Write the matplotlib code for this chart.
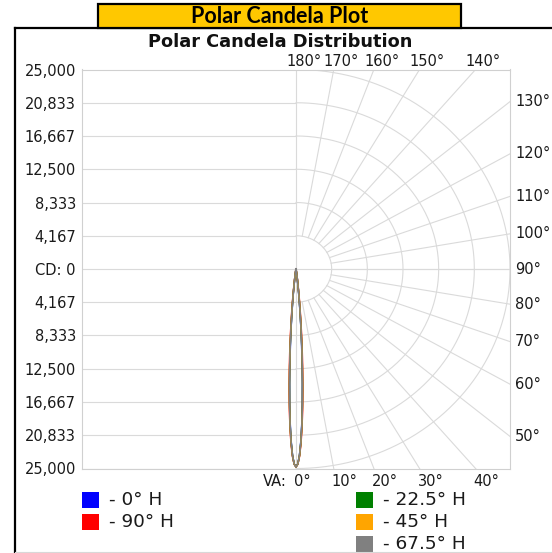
import numpy as np
import matplotlib
matplotlib.use('Agg')
import matplotlib.pyplot as plt
from matplotlib.patches import Rectangle
from matplotlib.lines import Line2D

# vertical angles (0 = nadir) and candela per horizontal plane
vert_angles = [0, 0.5, 1, 1.5, 2, 2.5, 3, 3.5, 4, 4.5, 5, 5.5, 6, 7, 8, 9, 10,
               12.5, 15, 20, 30, 45, 60, 90]
cd_0h = [24800, 24420, 23320, 21590, 19390, 16880, 14250, 11670, 9260, 7130, 5320,
         3850, 2700, 1210, 480, 170, 60, 30, 20, 15, 10, 5, 0, 0]
cd_90h = [24800, 24470, 23500, 21970, 20000, 17720, 15290, 12840, 10490, 8350, 6470,
          4870, 3580, 1780, 800, 330, 120, 40, 20, 15, 10, 5, 0, 0]
cd_22h = [24800, 24430, 23370, 21700, 19550, 17100, 14520, 11970, 9580, 7440, 5610,
          4110, 2920, 1350, 550, 200, 70, 30, 20, 15, 10, 5, 0, 0]
cd_45h = [24800, 24450, 23420, 21800, 19700, 17300, 14750, 12200, 9850, 7700, 5850,
          4330, 3100, 1450, 610, 230, 80, 30, 20, 15, 10, 5, 0, 0]
cd_67h = [24800, 24440, 23400, 21750, 19620, 17200, 14630, 12080, 9700, 7560, 5720,
          4220, 3000, 1400, 580, 210, 75, 30, 20, 15, 10, 5, 0, 0]

planes = ['0° H', '90° H', '22.5° H', '45° H', '67.5° H']
plane_cd = [cd_0h, cd_90h, cd_22h, cd_45h, cd_67h]
plane_colors = ['#0000FF', '#FF0000', '#008000', '#FFA500', '#808080']

# candela rings / axis ticks
ring_cd = [4167, 8333, 12500, 16667, 20833, 25000]
top_angles = [180, 170, 160, 150, 140]
right_angles = [130, 120, 110, 100, 90, 80, 70, 60, 50]
bottom_angles = [0, 10, 20, 30, 40]

W, H = 552, 553
fig = plt.figure(figsize=(W / 100, H / 100), dpi=100)
plt.rcParams['font.family'] = 'DejaVu Sans'

ax = fig.add_axes([82 / W, 1 - 468.5 / H, 428 / W, 399 / H])
R = ring_cd[-1]
ax.set_xlim(-R, R)
ax.set_ylim(-R, R)

grid_c = '#DADADA'
gw = 0.8
# horizontal lines on the left half
for v in ring_cd:
    ax.plot([-R, 0], [v, v], color=grid_c, lw=gw, zorder=1)
    ax.plot([-R, 0], [-v, -v], color=grid_c, lw=gw, zorder=1)
ax.axhline(0, color=grid_c, lw=gw, zorder=1)
ax.axvline(0, color=grid_c, lw=gw, zorder=1)

# rings on the right half
t = np.radians(np.linspace(0, 180, 361))
for r in ring_cd:
    ax.plot(r * np.sin(t), -r * np.cos(t), color=grid_c, lw=gw, zorder=1)

# radial lines every 10 degrees
for a in range(10, 180, 10):
    rr = np.array([ring_cd[0], 3 * R])
    ax.plot(rr * np.sin(np.radians(a)), -rr * np.cos(np.radians(a)),
            color=grid_c, lw=gw, zorder=1)

# candela curves (mirrored to both sides)
th = np.radians(vert_angles)
for name, cd, col in zip(planes, plane_cd, plane_colors):
    cd = np.array(cd, dtype=float)
    x = cd * np.sin(th)
    y = -cd * np.cos(th)
    ax.plot(np.concatenate([-x[::-1], x]), np.concatenate([y[::-1], y]),
            color=col, lw=1.1, zorder=3)

for s in ax.spines.values():
    s.set_color('#D0D0D0')
    s.set_linewidth(0.8)

ytick_vals = ring_cd[::-1] + [0] + [-v for v in ring_cd]
ytick_labels = [f'{v:,}' for v in ring_cd[::-1]] + ['CD: 0'] + [f'{v:,}' for v in ring_cd]
ax.set_xticks([])
ax.set_yticks(ytick_vals, ytick_labels)
ax.tick_params(axis='y', length=0, pad=4.5, labelsize=10.5, labelcolor='#1a1a1a')

lab_kw = dict(textcoords='offset points', fontsize=10.5, color='#1a1a1a',
              annotation_clip=False)
for a in top_angles:
    ax.annotate(f'{a}°', xy=(R * np.tan(np.radians(180 - a)), R), xytext=(5.5, 5.4),
                ha='center', va='center', **lab_kw)
for a in right_angles:
    ax.annotate(f'{a}°', xy=(R, R * np.tan(np.radians(a - 90))), xytext=(3.6, 0),
                ha='left', va='center', **lab_kw)
for a in bottom_angles:
    ax.annotate(f'{a}°', xy=(R * np.tan(np.radians(a)), -R), xytext=(-1.4, -9.7),
                ha='left', va='center', **lab_kw)
ax.annotate('VA:', xy=(0, -R), xytext=(-6.5, -9.7), ha='right', va='center', **lab_kw)

# title
fig.text(280 / W, 1 - 42 / H, 'Polar Candela Distribution', ha='center', va='center',
         fontsize=12.8, fontweight='bold', color='#111111')

# outer frame
fig.add_artist(Line2D([15 / W, 15 / W], [1 - 28 / H, 0], color='black', lw=1.6,
                      transform=fig.transFigure))
fig.add_artist(Line2D([15 / W, 1], [1 - 28 / H, 1 - 28 / H], color='black', lw=1.6,
                      transform=fig.transFigure))
fig.add_artist(Line2D([15 / W, 1], [1 - 552 / H, 1 - 552 / H], color='#D8D8D8', lw=0.8,
                      transform=fig.transFigure))

# header box
fig.add_artist(Rectangle((98 / W, 1 - 28 / H), (461 - 98) / W, 24 / H,
                         transform=fig.transFigure, facecolor='#FFC800',
                         edgecolor='black', lw=1.6, zorder=5))
fig.text(280 / W, 1 - 16.5 / H, 'Polar Candela Plot', ha='center', va='center',
         fontsize=15.5, fontweight='bold', family='Lato', color='black', zorder=6)

# legend
leg_pos = [(82, 500), (82, 522), (356, 500), (356, 522), (356, 544)]
for (px, py), name, col in zip(leg_pos, planes, plane_colors):
    fig.add_artist(Rectangle((px / W, 1 - (py + 8) / H), 17 / W, 16 / H,
                             transform=fig.transFigure, facecolor=col,
                             edgecolor='none'))
    fig.text((px + 27) / W, 1 - py / H, f'- {name}', ha='left', va='center',
             fontsize=13.3, color='#1a1a1a')

fig.savefig('out.png', dpi=100)
